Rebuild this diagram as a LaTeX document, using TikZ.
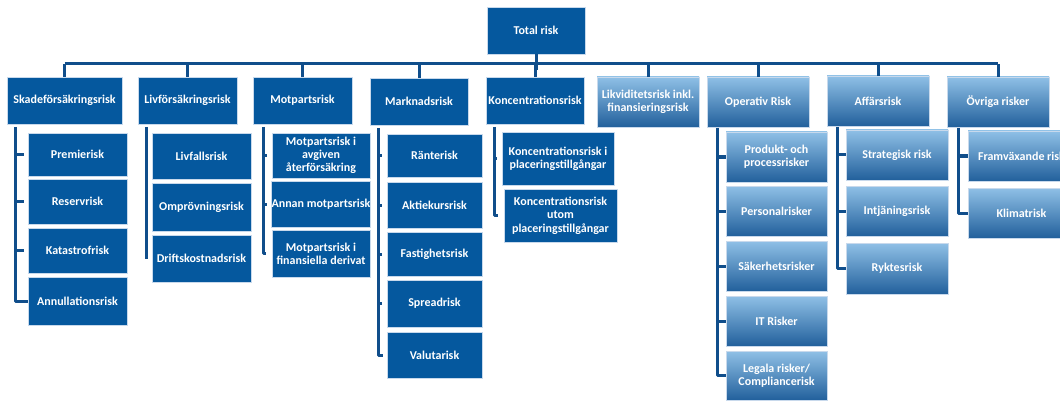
\documentclass[tikz,border=0pt]{standalone}
\usepackage{fontspec}
\setmainfont{Carlito}
\definecolor{darkfill}{HTML}{05589E}
\definecolor{bordc}{HTML}{C8D9EC}
\definecolor{conn}{HTML}{104E8B}
\definecolor{grTop}{HTML}{8FC0E6}
\definecolor{grMid}{HTML}{4A93D1}
\definecolor{grBot}{HTML}{22609C}
\newcommand\mybox[7]{\node[#1, minimum width={#4-#2}, minimum height={#5-#3}] (#6) at ({(#2+#4)/2},{(#3+#5)/2}) {#7};}
\begin{document}
\begin{tikzpicture}[x=1pt,y=-1pt,
  base/.style={rectangle, inner sep=0pt, outer sep=0pt, draw=bordc, line width=0.8pt,
    text=white, align=center, font=\fontsize{12}{13.3}\selectfont\bfseries},
  dk/.style={base, fill=darkfill},
  gr/.style={base, top color=grTop, middle color=grMid, bottom color=grBot},
  conline/.style={draw=conn, line width=3pt},
  brk/.style={draw=conn, line width=3pt, line join=round}]
\clip (0,0) rectangle (1060,401);
\fill[white] (0,0) rectangle (1060,401);
% level 0
\mybox{dk}{487}{7}{585}{54}{tot}{Total risk}
% level 1
\mybox{dk}{7}{77}{122}{124}{sk}{Skadeförsäkringsrisk}
\mybox{dk}{138}{77}{237}{124}{lv}{Livförsäkringsrisk}
\mybox{dk}{253}{77}{352}{124}{mp}{Motpartsrisk}
\mybox{dk}{370}{78}{468}{125}{mk}{Marknadsrisk}
\mybox{dk}{486}{77}{584}{124}{ko}{Koncentrationsrisk}
\mybox{gr}{597}{77}{699}{127}{li}{Likviditetsrisk inkl.\\finansieringsrisk}
\mybox{gr}{707}{77}{809}{127}{op}{Operativ Risk}
\mybox{gr}{827}{76}{929}{126}{af}{Affärsrisk}
\mybox{gr}{947}{77}{1049}{127}{ov}{Övriga risker}
% level 2
\mybox{dk}{28}{133}{127}{176}{skA}{Premierisk}
\mybox{dk}{28}{179}{127}{224}{skB}{Reservrisk}
\mybox{dk}{28}{228}{127}{273}{skC}{Katastrofrisk}
\mybox{dk}{28}{277}{127}{325}{skD}{Annullationsrisk}
\mybox{dk}{152}{133}{251}{179}{lvA}{Livfallsrisk}
\mybox{dk}{152}{183}{251}{231}{lvB}{Omprövningsrisk}
\mybox{dk}{152}{235}{251}{282}{lvC}{Driftskostnadsrisk}
\mybox{dk}{272}{133}{370}{178}{mpA}{Motpartsrisk i\\avgiven\\återförsäkring}
\mybox{dk}{272}{181}{370}{227}{mpB}{Annan motpartsrisk}
\mybox{dk}{272}{230}{370}{277}{mpC}{Motpartsrisk i\\finansiella derivat}
\mybox{dk}{387}{134}{482}{177}{mkA}{Ränterisk}
\mybox{dk}{387}{182}{482}{228}{mkB}{Aktiekursrisk}
\mybox{dk}{387}{232}{482}{276}{mkC}{Fastighetsrisk}
\mybox{dk}{387}{280}{482}{327}{mkD}{Spreadrisk}
\mybox{dk}{387}{332}{482}{378}{mkE}{Valutarisk}
\mybox{dk}{502}{132}{614}{185}{koA}{Koncentrationsrisk i\\placeringstillgångar}
\mybox{dk}{504}{189}{617}{242}{koB}{Koncentrationsrisk\\utom\\placeringstillgångar}
\mybox{gr}{726}{132}{827}{182}{opA}{Produkt- och\\processrisker}
\mybox{gr}{726}{186}{827}{236}{opB}{Personalrisker}
\mybox{gr}{726}{241}{827}{291}{opC}{Säkerhetsrisker}
\mybox{gr}{726}{296}{827}{346}{opD}{IT Risker}
\mybox{gr}{726}{351}{827}{400}{opE}{Legala risker/\\Compliancerisk}
\mybox{gr}{846}{130}{948}{180}{afA}{Strategisk risk}
\mybox{gr}{846}{186}{948}{236}{afB}{Intjäningsrisk}
\mybox{gr}{846}{243}{948}{294}{afC}{Ryktesrisk}
\mybox{gr}{968}{131}{1075}{181}{ovA}{Framväxande risk}
\mybox{gr}{968}{188}{1075}{238}{ovB}{Klimatrisk}
% bus
\coordinate (bus) at (0,64);
\draw[conline] (sk.north |- bus) -- (ov.north |- bus);
\draw[conline] (tot.south) -- ([yshift=-6pt]tot.south |- bus);
\foreach \n in {sk,lv,mp,mk,ko,li,op,af,ov}{
  \draw[conline] (\n.north |- bus) -- (\n.north);
}
% bracket x positions
\coordinate (skb) at (15,0);
\coordinate (lvb) at (146,0);
\coordinate (mpb) at (263,0);
\coordinate (mkb) at (378,0);
\coordinate (kob) at (494,0);
\coordinate (opb) at (717,0);
\coordinate (afb) at (837,0);
\coordinate (ovb) at (958,0);
% brackets
\draw[brk, shorten <=3pt] (sk.south -| skb) -- (skD.west -| skb) -- (skD.west);
\foreach \c in {skA,skB,skC}{\draw[brk, shorten >=4pt] (\c.west -| skb) -- (\c.west);}
\draw[brk, shorten <=3pt] (lv.south -| lvb) -- (lvC.west -| lvb) -- ([xshift=-6pt]lvC.west);
\draw[brk, shorten <=3pt] (mp.south -| mpb) -- (mpC.west -| mpb) -- ([xshift=-6pt]mpC.west);
\foreach \c in {mpA,mpB}{\draw[brk, shorten >=5pt] (\c.west -| mpb) -- (\c.west);}
\draw[brk, shorten <=3pt] (mk.south -| mkb) -- (mkE.west -| mkb) -- ([xshift=-4pt]mkE.west);
\foreach \c in {mkA,mkB,mkC,mkD}{\draw[brk, shorten >=5pt] (\c.west -| mkb) -- (\c.west);}
\draw[brk, shorten <=3pt] (ko.south -| kob) -- (koB.west -| kob) -- ([xshift=-6pt]koB.west);
\draw[brk, shorten >=5pt] (koA.west -| kob) -- (koA.west);
\draw[brk, shorten <=1pt] (op.south -| opb) -- (opE.west -| opb) -- (opE.west);
\foreach \c in {opA,opB,opC,opD}{\draw[brk] (\c.west -| opb) -- (\c.west);}
\draw[brk, shorten <=1pt] (af.south -| afb) -- (afC.west -| afb) -- (afC.west);
\foreach \c in {afA,afB}{\draw[brk] (\c.west -| afb) -- (\c.west);}
\draw[brk, shorten <=1pt] (ov.south -| ovb) -- (ovB.west -| ovb) -- (ovB.west);
\draw[brk] (ovA.west -| ovb) -- (ovA.west);
\end{tikzpicture}
\end{document}
